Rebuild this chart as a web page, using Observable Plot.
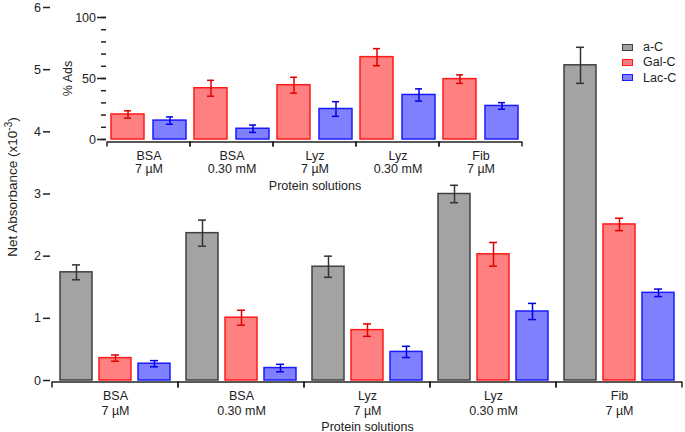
<!DOCTYPE html>
<html><head><meta charset="utf-8">
<script src="https://cdn.jsdelivr.net/npm/d3@7"></script>
<script src="https://cdn.jsdelivr.net/npm/@observablehq/plot@0.6"></script>
<style>
body{margin:0;background:#fff;}
#wrap{position:relative;width:685px;height:432px;font-family:"Liberation Sans",Arial,sans-serif;}
#wrap svg{position:absolute;left:0;top:0;}
#legend{position:absolute;left:622px;top:39.5px;font-size:12.5px;color:#222;}
#legend .row{display:flex;align-items:center;height:15.3px;}
#legend .sw{width:9px;height:5px;border:1.5px solid;margin-right:10px;}
</style></head>
<body><div id="wrap"></div>
<script>
// ---- data ----
const series = ["a-C", "Gal-C", "Lac-C"];
const proteins = ["BSA", "BSA", "Lyz", "Lyz", "Fib"];
const concentrations = ["7 µM", "0.30 mM", "7 µM", "0.30 mM", "7 µM"];
// Net absorbance (x10^-3)
const absAC = [1.74, 2.37, 1.83, 3.00, 5.07];
const absACErr = [0.12, 0.21, 0.17, 0.14, 0.29];
const absGalC = [0.36, 1.01, 0.81, 2.03, 2.51];
const absGalCErr = [0.05, 0.12, 0.10, 0.19, 0.10];
const absLacC = [0.27, 0.20, 0.46, 1.11, 1.41];
const absLacCErr = [0.05, 0.06, 0.09, 0.13, 0.06];
// % Ads (inset)
const adsGalC = [20.5, 42, 44.5, 67.5, 49.5];
const adsGalCErr = [3, 6.5, 6.5, 7, 3.5];
const adsLacC = [15.5, 8.8, 25, 36.5, 27.5];
const adsLacCErr = [3, 3, 6, 5, 2.7];
// tick labels and titles
const mainYTicks = [0, 1, 2, 3, 4, 5, 6];
const insetMajorTicks = [0, 50, 100];
const insetMinorTicks = [0, 10, 20, 30, 40, 50, 60, 70, 80, 90, 100];
const mainYLabelBase = "Net Absorbance (x10";
const mainYLabelExp = "-3";
const mainYLabelEnd = ")";
const insetYLabel = "% Ads";
const xLabel = "Protein solutions";

// ---- styles ----
const FONT = '"Liberation Sans", Arial, sans-serif';
const FS = 12.5;
const fills = ["#a3a3a3", "#ff8080", "#8080ff"];
const strokes = ["#404040", "#ff1a1a", "#1a1aff"];
const errColors = ["#333333", "#e00000", "#0000e0"];
const INK = "#222";

const mainYLabel = mainYLabelBase + mainYLabelExp + mainYLabelEnd;
const groupKeys = proteins.map((p, i) => p + "\n" + concentrations[i]);
const rowsFor = (name, vals, errs) => groupKeys.map((g, i) => ({group: g, series: name, value: vals[i], err: errs[i]}));

function seriesMarks(rows, k, cap) {
  const common = {fx: "group", x: "series", stroke: errColors[k], strokeWidth: 1.5};
  return [
    Plot.barY(rows, {fx: "group", x: "series", y: "value", fill: fills[k], stroke: strokes[k], strokeWidth: 1.5}),
    Plot.ruleX(rows, {...common, y1: d => d.value - d.err, y2: d => d.value + d.err}),
    Plot.tickY(rows, {...common, y: d => d.value - d.err, insetLeft: cap, insetRight: cap}),
    Plot.tickY(rows, {...common, y: d => d.value + d.err, insetLeft: cap, insetRight: cap})
  ];
}

// group separator ticks, drawn from the library's scales in each facet
function separators(len, off) {
  return (index, scales, values, dims) => {
    const g = d3.create("svg:g");
    const y0 = scales.y(0) + off;
    const xl = dims.marginLeft;
    const bw = scales.fx && scales.fx.bandwidth ? scales.fx.bandwidth() : dims.width - dims.marginLeft - dims.marginRight;
    for (const x of [xl, xl + bw]) {
      g.append("line").attr("x1", x).attr("x2", x).attr("y1", y0).attr("y2", y0 + len)
        .attr("stroke", INK).attr("stroke-width", 1.5);
    }
    return g.node();
  };
}

const mainRows = [
  rowsFor(series[0], absAC, absACErr),
  rowsFor(series[1], absGalC, absGalCErr),
  rowsFor(series[2], absLacC, absLacCErr)
];

const main = Plot.plot({
  width: 685, height: 432,
  marginLeft: 52, marginRight: 3, marginTop: 7, marginBottom: 52,
  style: {fontFamily: FONT, fontSize: FS + "px", background: "transparent", color: INK, overflow: "visible"},
  facet: {marginTop: 0, marginRight: 0, marginBottom: 0, marginLeft: 0},
  fx: {domain: groupKeys, padding: 0},
  x: {domain: series, paddingInner: 0.175, paddingOuter: 0.1625, axis: null},
  y: {domain: [0, 6]},
  marks: [
    Plot.ruleY([0], {dy: 1.5, stroke: INK, strokeWidth: 1.5}),
    separators(6, 1.5),
    ...mainRows.flatMap((rows, k) => seriesMarks(rows, k, 12)),
    Plot.axisY({ticks: mainYTicks, tickFormat: "d", tickSize: 7, tickPadding: 2.5, dx: -2, line: true, fontSize: FS,
      strokeWidth: 1.5, label: mainYLabel, labelAnchor: "center", labelArrow: "none", labelOffset: 45}),
    Plot.axisFx({anchor: "bottom", tickSize: 0, tickPadding: 9, lineHeight: 1.2, fontSize: FS,
      label: xLabel, labelAnchor: "center", labelArrow: "none", labelOffset: 50})
  ]
});

// superscript exponent in the y-axis title (kept as real text)
d3.select(main).selectAll("text").filter(function () { return this.textContent === mainYLabel; }).each(function () {
  const t = d3.select(this);
  const tr = t.attr("transform") || "";
  t.attr("transform", tr + " translate(7,0)").attr("font-size", "13.5px");
  t.text(null);
  t.append("tspan").text(mainYLabelBase);
  t.append("tspan").attr("dy", "-5.5").attr("font-size", "10px").text(mainYLabelExp);
  t.append("tspan").attr("dy", "5.5").text(mainYLabelEnd);
});

const insetSeries = series.slice(1);
const insetRows = [
  rowsFor(insetSeries[0], adsGalC, adsGalCErr),
  rowsFor(insetSeries[1], adsLacC, adsLacCErr)
];

const inset = Plot.plot({
  width: 530, height: 195,
  marginLeft: 107, marginRight: 8, marginTop: 17, marginBottom: 56,
  style: {fontFamily: FONT, fontSize: FS + "px", background: "transparent", color: INK, overflow: "visible"},
  facet: {marginTop: 0, marginRight: 0, marginBottom: 0, marginLeft: 0},
  fx: {domain: groupKeys, padding: 0},
  x: {domain: insetSeries, paddingInner: 0.214, paddingOuter: 0.095, axis: null},
  y: {domain: [0, 100]},
  marks: [
    Plot.ruleY([0], {dy: 2.5, stroke: INK, strokeWidth: 1.5}),
    separators(5, 2.5),
    ...insetRows.flatMap((rows, k) => seriesMarks(rows, k + 1, 13)),
    Plot.axisY({ticks: insetMinorTicks, tickFormat: () => "", tickSize: 5, dx: -1, line: true, strokeWidth: 1.5, label: null}),
    Plot.axisY({ticks: insetMajorTicks, tickFormat: "d", tickSize: 9, tickPadding: 1.5, dx: -1, strokeWidth: 1.5, fontSize: FS,
      label: insetYLabel, labelAnchor: "center", labelArrow: "none", labelOffset: 44}),
    Plot.axisFx({anchor: "bottom", tickSize: 0, tickPadding: 11, lineHeight: 1.05, fontSize: FS,
      label: xLabel, labelAnchor: "center", labelArrow: "none", labelOffset: 50})
  ]
});

const wrap = document.getElementById("wrap");
wrap.appendChild(main);
wrap.appendChild(inset);

// legend
const legend = document.createElement("div");
legend.id = "legend";
series.forEach((s, k) => {
  const row = document.createElement("div");
  row.className = "row";
  const sw = document.createElement("div");
  sw.className = "sw";
  sw.style.background = fills[k];
  sw.style.borderColor = strokes[k];
  const t = document.createElement("span");
  t.textContent = s;
  row.appendChild(sw); row.appendChild(t);
  legend.appendChild(row);
});
wrap.appendChild(legend);
</script>
</body></html>
